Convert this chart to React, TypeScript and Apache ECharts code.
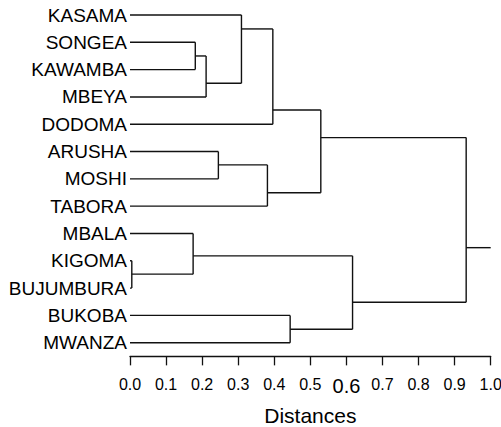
import React, { useEffect, useRef } from "react";
import * as echarts from "echarts";

// Leaf order (top to bottom)
const leaves = [
  "KASAMA", "SONGEA", "KAWAMBA", "MBEYA", "DODOMA", "ARUSHA", "MOSHI",
  "TABORA", "MBALA", "KIGOMA", "BUJUMBURA", "BUKOBA", "MWANZA",
];

// Merges: left child, right child, merge distance, vertical position (leaf units)
const mergeIds = ["n0", "n1", "n2", "n3", "n4", "n5", "n6", "n7", "n8", "n9", "n10", "n11"];
const mergeLeft = ["SONGEA", "n0", "KASAMA", "n2", "ARUSHA", "n4", "n3", "KIGOMA", "MBALA", "BUKOBA", "n8", "n6"];
const mergeRight = ["KAWAMBA", "MBEYA", "n1", "DODOMA", "MOSHI", "TABORA", "n5", "BUJUMBURA", "n7", "MWANZA", "n9", "n10"];
const mergeHeight = [0.181, 0.211, 0.309, 0.396, 0.245, 0.381, 0.529, 0.005, 0.175, 0.444, 0.617, 0.932];
const mergeY = [1.5, 2.5, 0.51, 3.48, 5.49, 6.51, 4.49, 9.49, 8.82, 11.51, 10.52, 8.52];
const rootStubEnd = 1.0;

// Axis ticks
const xTicks = [0, 0.1, 0.2, 0.3, 0.4, 0.5, 0.6, 0.7, 0.8, 0.9, 1.0];
const axisTitle = "Distances";

const FONT = "'Liberation Sans', Arial, Helvetica, sans-serif";

function buildSegments(): number[][] {
  const pos: Record<string, { h: number; y: number }> = {};
  leaves.forEach((n, i) => (pos[n] = { h: 0, y: i }));
  const segs: number[][] = [];
  mergeIds.forEach((id, k) => {
    const l = pos[mergeLeft[k]];
    const r = pos[mergeRight[k]];
    const h = mergeHeight[k];
    segs.push([l.h, l.y, h, l.y]);
    segs.push([r.h, r.y, h, r.y]);
    segs.push([h, l.y, h, r.y]);
    pos[id] = { h, y: mergeY[k] };
  });
  const root = pos[mergeIds[mergeIds.length - 1]];
  segs.push([root.h, root.y, rootStubEnd, root.y]);
  return segs;
}

export default function App() {
  const ref = useRef<HTMLDivElement>(null);
  useEffect(() => {
    if (!ref.current) return;
    const chart = echarts.init(ref.current, null, { renderer: "svg" });
    const segs = buildSegments();
    chart.setOption({
      animation: false,
      backgroundColor: "#ffffff",
      grid: {
        left: 130,
        right: 10.3,
        top: 1.35,
        bottom: 70.65,
        containLabel: false,
        outerBoundsMode: "none",
      },
      xAxis: {
        type: "value",
        min: 0,
        max: 1,
        interval: 0.1,
        name: axisTitle,
        nameLocation: "middle",
        nameGap: 49,
        nameTextStyle: { fontFamily: FONT, fontSize: 21, color: "#000" },
        axisLine: { show: true, onZero: false, lineStyle: { color: "#111", width: 1.3 } },
        axisTick: { show: true, inside: false, length: 9, lineStyle: { color: "#111", width: 1.3 } },
        splitLine: { show: false },
        axisLabel: {
          margin: 20,
          fontFamily: FONT,
          fontSize: 16,
          color: "#000",
          formatter: (v: number) => {
            const t = xTicks.find((x) => Math.abs(x - v) < 1e-6);
            const s = (t ?? v).toFixed(1);
            return s === "0.6" ? "{big|" + s + "}" : s;
          },
          rich: {
            big: { fontFamily: FONT, fontSize: 20, color: "#000" },
          },
        },
      },
      yAxis: [
        {
          type: "value",
          min: -0.5,
          max: 12.5,
          inverse: true,
          show: false,
        },
        {
          type: "category",
          data: leaves,
          inverse: true,
          boundaryGap: true,
          position: "left",
          axisLine: { show: false },
          axisTick: { show: false },
          splitLine: { show: false },
          axisLabel: {
            margin: 3,
            fontFamily: FONT,
            fontSize: 19,
            color: "#000",
            interval: 0,
          },
        },
      ],
      series: [
        {
          type: "custom",
          yAxisIndex: 0,
          data: segs,
          encode: { x: [0, 2], y: [1, 3] },
          renderItem: (params: any, api: any) => {
            const p1 = api.coord([api.value(0), api.value(1)]);
            const p2 = api.coord([api.value(2), api.value(3)]);
            return {
              type: "line",
              shape: { x1: p1[0], y1: p1[1], x2: p2[0], y2: p2[1] },
              style: { stroke: "#111", lineWidth: 1.4 },
            };
          },
        },
      ],
    });
    return () => chart.dispose();
  }, []);
  return (
    <div
      ref={ref}
      style={{ position: "fixed", left: 0, top: 0, width: 501, height: 427, background: "#fff" }}
    />
  );
}
